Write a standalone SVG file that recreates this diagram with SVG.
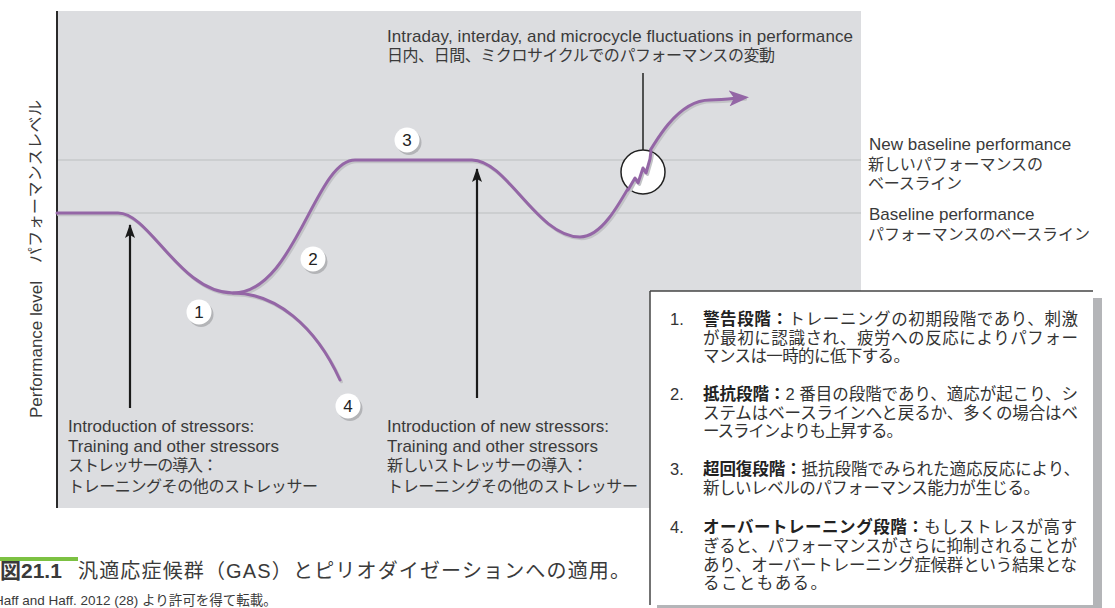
<svg xmlns="http://www.w3.org/2000/svg" width="1115" height="608" viewBox="0 0 1115 608">
<defs>
<style>
.t{font-family:"Liberation Sans","Noto Sans CJK JP",sans-serif;fill:#3a3a3a;}
.en{font-size:17px;}
.jp{font-size:16px;}
.bx{font-size:16.5px;fill:#333;}
.b{font-weight:bold;fill:#222;}
.curve{fill:none;stroke:#9466a6;stroke-width:3;stroke-linecap:round;stroke-linejoin:round;}
.shadow{fill:none;stroke:#c2c3c6;stroke-width:3;stroke-linecap:round;stroke-linejoin:round;}
.grid{stroke:#c7c8cb;stroke-width:1.5;}
.arr{stroke:#1a1a1a;stroke-width:2.2;fill:none;}
.nums{fill:#b3b4b7;}
.numc{fill:#fff;}
.num{font-family:"Liberation Sans",sans-serif;font-size:17px;fill:#222;text-anchor:middle;}
</style>
<marker id="blk" markerUnits="userSpaceOnUse" viewBox="0 0 14 10" markerWidth="14" markerHeight="10" refX="13" refY="5" orient="auto">
<path d="M0,0 L14,5 L0,10 L3,5 z" fill="#1a1a1a"/>
</marker>
<marker id="pur" markerUnits="userSpaceOnUse" viewBox="0 0 20 16" markerWidth="20" markerHeight="16" refX="15" refY="8" orient="auto">
<path d="M0,0 L20,8 L0,16 L5,8 z" fill="#9466a6"/>
</marker>
</defs>

<g id="background">
<rect x="57" y="11" width="804" height="497" fill="#dcdde0"/>
<line class="grid" x1="57" y1="160" x2="861" y2="160"/>
<line class="grid" x1="57" y1="213" x2="861" y2="213"/>
<line x1="57" y1="11" x2="57" y2="508" stroke="#2a2a2a" stroke-width="2"/>
</g>

<g id="curve-shadow" transform="translate(1.5,1.8)">
<path class="shadow" d="M57,213 L118,213 C150,213 180,293 233,293 C295,293 315,160 355,160 L472,160 C507,160 537,237 580,237 C625,237 650,100 710,100 C725,100 736,98 744,97.5"/>
<path class="shadow" d="M233,293 C275,293 315,325 340,380"/>
</g>

<g id="connectors">
<path id="performance-curve" class="curve" d="M57,213 L118,213 C150,213 180,293 233,293 C295,293 315,160 355,160 L472,160 C507,160 537,237 580,237 C625,237 650,100 710,100 C725,100 736,98 744,97.5" marker-end="url(#pur)"/>
<path id="overtraining-branch" class="curve" d="M233,293 C275,293 315,325 340,380"/>
<line class="arr" x1="130" y1="408" x2="130" y2="225" marker-end="url(#blk)"/>
<line class="arr" x1="477" y1="398" x2="477" y2="169" marker-end="url(#blk)"/>
<line x1="643" y1="73" x2="643" y2="150" stroke="#222" stroke-width="1.5"/>
</g>

<g id="fluctuation-circle">
<circle cx="643" cy="172" r="22" fill="#fff" stroke="#222" stroke-width="1.5"/>
<polyline class="shadow" transform="translate(1.5,1.5)" points="629,189 635,178 638,183 643,168 646,173 650,159 651,153"/>
<polyline class="curve" points="628,190 635,178 638,183 643,168 646,173 650,159 651,151"/>
</g>

<g id="n1"><circle class="nums" cx="201" cy="314.5" r="12.5"/><circle class="numc" cx="199" cy="312" r="12.5"/><text class="num" x="199" y="318">1</text></g>
<g id="n2"><circle class="nums" cx="315" cy="261.5" r="12.5"/><circle class="numc" cx="313" cy="259" r="12.5"/><text class="num" x="313" y="265">2</text></g>
<g id="n3"><circle class="nums" cx="409" cy="142.5" r="12.5"/><circle class="numc" cx="407" cy="140" r="12.5"/><text class="num" x="407" y="146">3</text></g>
<g id="n4"><circle class="nums" cx="350" cy="408.5" r="12.5"/><circle class="numc" cx="348" cy="406" r="12.5"/><text class="num" x="348" y="412">4</text></g>

<g id="y-axis-label">
<text class="t en" transform="translate(42,418) rotate(-90)" x="0" y="0">Performance level</text>
<text class="t jp" transform="translate(41,263) rotate(-90)" x="0" y="0" textLength="163">パフォーマンスレベル</text>
</g>

<g id="fluctuation-label">
<text class="t en" x="387" y="42" textLength="466">Intraday, interday, and microcycle fluctuations in performance</text>
<text class="t jp" x="387" y="61" textLength="388">日内、日間、ミクロサイクルでのパフォーマンスの変動</text>
</g>

<g id="baseline-labels">
<text class="t en" x="869" y="150">New baseline performance</text>
<text class="t jp" x="868" y="170" textLength="175">新しいパフォーマンスの</text>
<text class="t jp" x="868" y="189" textLength="94">ベースライン</text>
<text class="t en" x="869" y="220">Baseline performance</text>
<text class="t jp" x="868" y="240" textLength="222">パフォーマンスのベースライン</text>
</g>

<g id="stressor-label-1">
<text class="t en" x="68" y="432">Introduction of stressors:</text>
<text class="t en" x="68" y="452">Training and other stressors</text>
<text class="t jp" x="68" y="471" textLength="150">ストレッサーの導入：</text>
<text class="t jp" x="68" y="492" textLength="250">トレーニングその他のストレッサー</text>
</g>

<g id="stressor-label-2">
<text class="t en" x="387" y="432">Introduction of new stressors:</text>
<text class="t en" x="387" y="452">Training and other stressors</text>
<text class="t jp" x="387" y="471" textLength="201">新しいストレッサーの導入：</text>
<text class="t jp" x="387" y="492" textLength="251">トレーニングその他のストレッサー</text>
</g>

<g id="legend-box">
<rect x="650" y="291" width="443" height="315" fill="#fff"/>
<rect x="1093" y="298" width="9" height="310" fill="#b4b5b8"/>
<rect x="657" y="605" width="436" height="3" fill="#b4b5b8"/>
<line x1="650" y1="291" x2="1093" y2="291" stroke="#444" stroke-width="1.5"/>
<line x1="650" y1="291" x2="650" y2="605" stroke="#444" stroke-width="1.5"/>
<text class="t bx" x="670" y="325">1.</text>
<text class="t bx" x="703" y="325" textLength="375"><tspan class="b">警告段階：</tspan>トレーニングの初期段階であり、刺激</text>
<text class="t bx" x="703" y="344" textLength="375">が最初に認識され、疲労への反応によりパフォー</text>
<text class="t bx" x="703" y="362" textLength="207">マンスは一時的に低下する。</text>
<text class="t bx" x="670" y="400">2.</text>
<text class="t bx" x="703" y="400" textLength="375"><tspan class="b">抵抗段階：</tspan>2 番目の段階であり、適応が起こり、シ</text>
<text class="t bx" x="703" y="419" textLength="375">ステムはベースラインへと戻るか、多くの場合はベ</text>
<text class="t bx" x="703" y="437" textLength="200">ースラインよりも上昇する。</text>
<text class="t bx" x="670" y="475">3.</text>
<text class="t bx" x="703" y="475" textLength="377"><tspan class="b">超回復段階：</tspan>抵抗段階でみられた適応反応により、</text>
<text class="t bx" x="703" y="494" textLength="337">新しいレベルのパフォーマンス能力が生じる。</text>
<text class="t bx" x="670" y="533">4.</text>
<text class="t bx" x="703" y="533" textLength="374"><tspan class="b">オーバートレーニング段階：</tspan>もしストレスが高す</text>
<text class="t bx" x="703" y="552" textLength="374">ぎると、パフォーマンスがさらに抑制されることが</text>
<text class="t bx" x="703" y="571" textLength="374">あり、オーバートレーニング症候群という結果とな</text>
<text class="t bx" x="703" y="589" textLength="124">ることもある。</text>
</g>

<g id="caption">
<rect x="0" y="557" width="78" height="4" fill="#7cc142"/>
<text class="t" x="0" y="578" font-size="21" font-weight="bold" fill="#222">図21.1</text>
<text class="t" x="78" y="578" font-size="20" fill="#333" textLength="552">汎適応症候群（GAS）とピリオダイゼーションへの適用。</text>
<text class="t" x="-6" y="605" font-size="13.5" fill="#333">Haff and Haff. 2012 (28) より許可を得て転載。</text>
</g>
</svg>
